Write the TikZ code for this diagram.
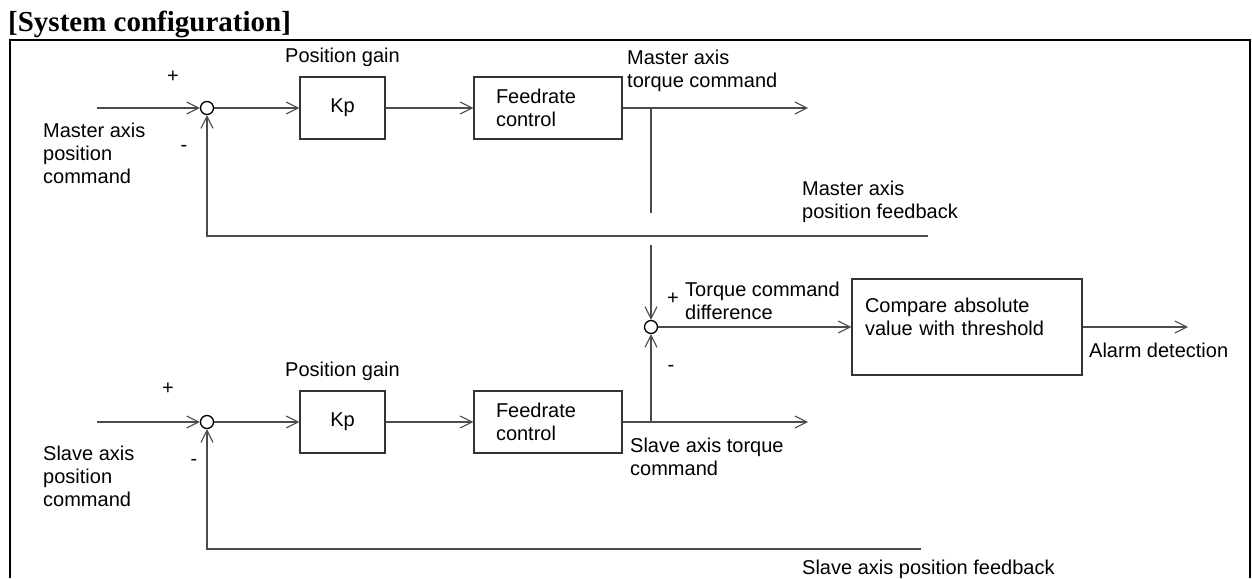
\documentclass[tikz,border=0pt]{standalone}
\usepackage{fontspec}
\setmainfont{Liberation Sans}
\newfontfamily\headfont{Liberation Serif}
\usepackage{tikz}
\usetikzlibrary{arrows.meta,positioning}
\tikzset{
  ctrlblock/.style={draw=black!80,line width=1.2pt,inner sep=0pt,minimum width=85pt,minimum height=62pt,font=\fontsize{20}{23}\selectfont},
  rateblock/.style={ctrlblock,align=left,text width=104pt,inner xsep=22pt,minimum width=148pt},
  cmpblock/.style={ctrlblock,align=left,text width=204pt,inner xsep=13pt,minimum width=230pt,minimum height=96pt,text depth=43pt},
  sumjunction/.style={draw,circle,line width=1.3pt,inner sep=0pt,minimum size=13pt},
  sigtext/.style={inner sep=0pt,align=left,font=\fontsize{20}{23}\selectfont},
  wire/.style={draw=black!70,line width=1.1pt},
  sig/.style={wire,-{Straight Barb[length=12pt,width=12pt]}}
}

\begin{document}
\begin{tikzpicture}[x=1pt,y=-1pt]
  \useasboundingbox (0,0) rectangle (1252,578);
  \node[anchor=base west,inner sep=0pt,font=\headfont\bfseries\fontsize{29}{32}\selectfont] (title) at (8,32) {[System configuration]};
  \draw[line width=2.2pt] (10,578) |- (1250,40) -- (1250,578);

  % the master and slave loops share the same chain
  \foreach \ax/\row in {m/108,s/422} {
    \coordinate (\ax in) at (97,\row);
    \node[sumjunction] (\ax sum) at (207,\row) {};
    \node[ctrlblock] (\ax kp) at (342.5,\row) {Kp};
    \node[sigtext,above=10pt of \ax kp] (\ax gain) {Position gain};
    \node[rateblock] (\ax rate) at (548,\row) {Feedrate\\control};
    \coordinate (\ax out) at (808,\row);
    \coordinate (\ax tap) at (651,\row);
    \draw[sig] (\ax in) -- (\ax sum);
    \draw[sig] (\ax sum) -- (\ax kp);
    \draw[sig] (\ax kp) -- (\ax rate);
    \draw[sig] (\ax rate) -- (\ax out);
  }

  \node[sigtext,anchor=north west] (mcmd) at (43,122.5) {Master axis\\position\\command};
  \node[sigtext,anchor=north west] (scmd) at (43,445.5) {Slave axis\\position\\command};
  \node[sigtext] (mplus) at (173,77) {+};
  \node[sigtext] (mminus) at (184,148) {-};
  \node[sigtext] (splus) at (168,389) {+};
  \node[sigtext] (sminus) at (194,462) {-};
  \node[sigtext,anchor=north west] (mtorque) at (627,49.5) {Master axis\\torque command};
  \node[sigtext,anchor=north west] (storque) at (630,437.5) {Slave axis torque\\command};

  % position feedback back to the summing points
  \coordinate (mfb) at (928,236);
  \coordinate (sfb) at (921,549);
  \draw[sig] (mfb) -| (msum);
  \draw[sig] (sfb) -| (ssum);
  \node[sigtext,anchor=north west] (mfbtext) at (802,180.5) {Master axis\\position feedback};
  \node[sigtext,anchor=base west] (sfbtext) at (802,574) {Slave axis position feedback};

  % torque difference and alarm check
  \node[sumjunction] (dsum) at (651,327) {};
  \node[cmpblock] (cmp) at (967,327) {Compare absolute\\value with threshold};
  \coordinate (mtapend) at (651,213);
  \coordinate (mtaplow) at (651,245);
  \coordinate (alarm) at (1188,327);
  \draw[wire] (mtap) -- (mtapend);
  \draw[sig] (mtaplow) -- (dsum);
  \draw[sig] (stap) -- (dsum);
  \draw[sig] (dsum) -- (cmp);
  \draw[sig] (cmp) -- (alarm);
  \node[sigtext] (dplus) at (673,299) {+};
  \node[sigtext] (dminus) at (671,368) {-};
  \node[sigtext,anchor=north west] (difftext) at (685,281.5) {Torque command\\difference};
  \node[sigtext,anchor=base west] (alarmtext) at (1089,357) {Alarm detection};
\end{tikzpicture}
\end{document}
